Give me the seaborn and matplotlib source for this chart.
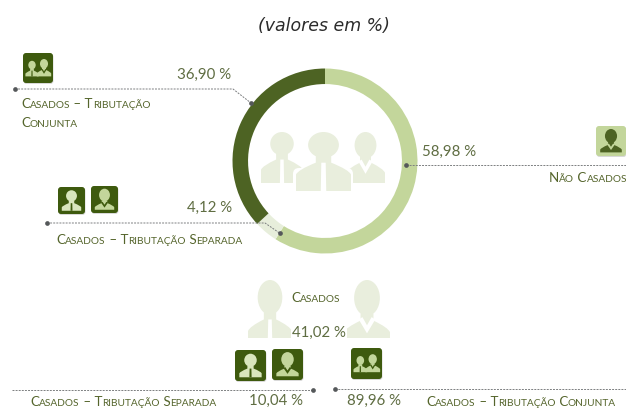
import matplotlib
matplotlib.use("Agg")
import matplotlib.pyplot as plt
import seaborn as sns
from matplotlib.patches import Ellipse, FancyBboxPatch, PathPatch, Polygon
from matplotlib.path import Path

# dados
share_labels = ["Não Casados", "Casados – Tributação Separada", "Casados – Tributação Conjunta"]
share_values = [58.98, 4.12, 36.90]
married_labels = ["Casados – Tributação Separada", "Casados – Tributação Conjunta"]
married_values = [10.04, 89.96]
married_total = 41.02

DARK = "#4d6323"
LIGHT = "#c3d69b"
PALE = "#e7eedb"
ICON = "#3e5a0e"
GHOST = "#e9eedd"
TEXT = "#55652c"
VALUE = "#5f6d42"
DOT = "#55585a"

sns.set_theme(style="white")
plt.rcParams["font.family"] = ["Lato", "DejaVu Sans"]

fig = plt.figure(figsize=(6.26, 4.08), dpi=100)

# rosca
cx, cy, r = 325, 161, 92.5
pie_ax = fig.add_axes([(cx - r) / 626, 1 - (cy + r) / 408, 2 * r / 626, 2 * r / 408])
pie_ax.pie(
    share_values,
    colors=sns.color_palette([LIGHT, PALE, DARK]),
    startangle=90,
    counterclock=False,
    radius=1,
    wedgeprops={"width": 0.168, "linewidth": 0},
)
pie_ax.set_xlim(-1, 1)
pie_ax.set_ylim(-1, 1)

# camada em pixels para anotacoes
ax = fig.add_axes([0, 0, 1, 1], zorder=3)
ax.set_xlim(0, 626)
ax.set_ylim(408, 0)
ax.axis("off")
renderer = fig.canvas.get_renderer()


def pct(v):
    return f"{v:.2f}".replace(".", ",") + " %"


def small_caps(x, y, s, size=9.6):
    # maiusculas grandes, minusculas viram versalete
    runs = []
    for ch in s:
        big = not ch.islower()
        if runs and runs[-1][1] == big:
            runs[-1][0] += ch
        else:
            runs.append([ch, big])
    for run, big in runs:
        t = ax.text(x, y, run.upper(), fontsize=size if big else size * 0.76, color=TEXT,
                    va="baseline", ha="left")
        x += t.get_window_extent(renderer).width


def person(x0, x1, top, bottom, color, detail=None, female=False, head=0.5):
    w, h = x1 - x0, bottom - top
    mid = (x0 + x1) / 2
    head_w = 0.56 * w
    ax.add_patch(Ellipse((mid, top + head * h / 2), head_w, head * h, fc=color, lw=0))
    neck = top + (head - 0.04) * h
    verts = [
        (x0, bottom), (x0, neck + 0.32 * h), (x0 + 0.04 * w, neck + 0.24 * h), (mid - 0.14 * w, neck + 0.12 * h),
        (mid - 0.14 * w, neck), (mid + 0.14 * w, neck), (mid + 0.14 * w, neck + 0.12 * h),
        (x1 - 0.04 * w, neck + 0.24 * h), (x1, neck + 0.32 * h), (x1, bottom), (x0, bottom),
    ]
    codes = [Path.MOVETO, Path.LINETO, Path.CURVE3, Path.CURVE3, Path.LINETO, Path.LINETO, Path.LINETO,
             Path.CURVE3, Path.CURVE3, Path.LINETO, Path.CLOSEPOLY]
    ax.add_patch(PathPatch(Path(verts, codes), fc=color, lw=0))
    if detail:
        if female:
            pts = [(mid - 0.18 * w, neck + 0.1 * h), (mid, neck + 0.34 * h), (mid + 0.18 * w, neck + 0.1 * h),
                   (mid + 0.1 * w, neck + 0.06 * h), (mid, neck + 0.2 * h), (mid - 0.1 * w, neck + 0.06 * h)]
        else:
            pts = [(mid - 0.04 * w, neck + 0.12 * h), (mid + 0.04 * w, neck + 0.12 * h),
                   (mid + 0.05 * w, bottom), (mid - 0.05 * w, bottom)]
        ax.add_patch(Polygon(pts, fc=detail, lw=0))


def icon(x, y, size, kind, bg=ICON, fg=LIGHT, detail=None):
    ax.add_patch(FancyBboxPatch((x + 0.5, y + 1), size, size, boxstyle="round,pad=0,rounding_size=3",
                                fc="#d9d9d9", lw=0))
    ax.add_patch(FancyBboxPatch((x, y), size, size, boxstyle="round,pad=0,rounding_size=3", fc=bg, lw=0))
    s = size
    if kind == "man":
        person(x + 0.14 * s, x + 0.86 * s, y + 0.12 * s, y + 0.88 * s, "#d9e6bd", bg, head=0.55)
    elif kind == "woman":
        person(x + 0.14 * s, x + 0.86 * s, y + 0.1 * s, y + 0.88 * s, fg, bg, female=True, head=0.6)
    else:
        person(x + 0.08 * s, x + 0.52 * s, y + 0.26 * s, y + 0.78 * s, fg, bg, head=0.55)
        person(x + 0.46 * s, x + 0.94 * s, y + 0.2 * s, y + 0.78 * s, fg, bg, female=True, head=0.55)


def leader(pts, dot_start=True, dot_end=True):
    xs, ys = zip(*pts)
    ax.plot(xs, ys, color="#7c7f80", lw=0.7, ls=(0, (2, 1.2)))
    if dot_start:
        ax.plot(xs[0], ys[0], "o", color=DOT, ms=3.4, mew=0)
    if dot_end:
        ax.plot(xs[-1], ys[-1], "o", color=DOT, ms=3.4, mew=0)


ax.text(324, 26, "(valores em %)", fontsize=12.5, style="italic", color="#2b2b2b", family="DejaVu Sans",
        ha="center", va="center")

# silhuetas centrais
person(261, 303, 132, 183, GHOST, "white", head=0.46)
person(346, 385, 132, 183, GHOST, "white", female=True, head=0.52)
ax.add_patch(Ellipse((323, 147), 33, 38, fc="white", lw=0))
ax.add_patch(FancyBboxPatch((293, 168), 60, 26, boxstyle="round,pad=0,rounding_size=6", fc="white", lw=0))
person(296, 351, 132, 191, GHOST, "white", head=0.44)

# conjunta
icon(23, 53, 30, "couple")
ax.text(231, 75, pct(share_values[2]), fontsize=10.8, color=VALUE, ha="right", va="center")
leader([(15, 89), (233, 89), (251, 103)])
small_caps(21, 108, "Casados – Tributação")
small_caps(21, 127, "Conjunta")

# separada
icon(58, 187, 27, "man")
icon(91, 186, 27, "woman")
ax.text(232, 208, pct(share_values[1]), fontsize=10.8, color=VALUE, ha="right", va="center")
leader([(47, 223), (265, 223), (279.5, 233)])
small_caps(56, 244, "Casados – Tributação Separada")

# nao casados
icon(596, 126, 30, "woman", bg=LIGHT, fg="#4d6323")
ax.text(422, 152, pct(share_values[0]), fontsize=10.8, color=VALUE, ha="left", va="center")
leader([(406, 165), (626, 165)], dot_end=False)
small_caps(549, 182, "Não Casados")

# bloco inferior
person(248, 292, 280, 338, GHOST, "white", head=0.6)
person(344, 390, 280, 338, GHOST, "white", female=True, head=0.62)
ax.add_patch(FancyBboxPatch((291, 326), 56, 16, boxstyle="round,pad=0,rounding_size=4", fc="white", lw=0))
small_caps(291, 302, "Casados")
ax.text(319, 333, pct(married_total), fontsize=10.8, color=VALUE, ha="center", va="center")

icon(235, 350, 31, "man")
icon(272, 349, 31, "woman")
icon(351, 348, 31, "couple")
leader([(12, 390), (313, 390)], dot_start=False)
leader([(626, 389), (335, 389)], dot_start=False)
small_caps(30, 406, married_labels[0])
ax.text(276, 401, pct(married_values[0]), fontsize=10.8, color=VALUE, ha="center", va="center")
ax.text(374, 401, pct(married_values[1]), fontsize=10.8, color=VALUE, ha="center", va="center")
small_caps(426, 406, married_labels[1])

fig.savefig("out.png", dpi=100)
